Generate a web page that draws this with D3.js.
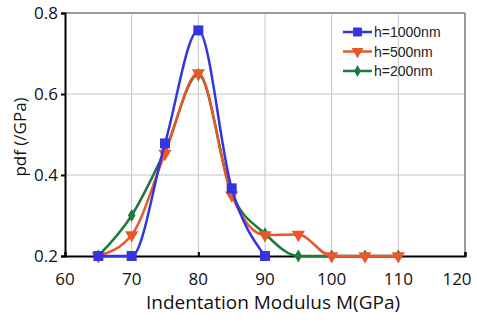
<!DOCTYPE html>
<html>
<head>
<meta charset="utf-8">
<script src="https://cdn.jsdelivr.net/npm/d3@7"></script>
<style>
  html, body { margin: 0; padding: 0; background: #fff; overflow: hidden; }
  svg { display: block; }
</style>
</head>
<body>
<div id="chart"></div>
<script>
const xTicks = [60, 70, 80, 90, 100, 110, 120];
const yTicks = [0.2, 0.4, 0.6, 0.8];

const mBlue = [65, 70, 75, 80, 85, 90];
const pdfBlue = [0.2, 0.2, 0.478, 0.757, 0.367, 0.2];

const mOrange = [65, 70, 75, 80, 85, 90, 95, 100, 105, 110];
const pdfOrange = [0.2, 0.252, 0.453, 0.652, 0.35, 0.252, 0.253, 0.2, 0.2, 0.2];

const mGreen = [65, 70, 75, 80, 85, 90, 95, 100, 105, 110];
const pdfGreen = [0.2, 0.3, 0.46, 0.648, 0.355, 0.255, 0.2, 0.2, 0.2, 0.2];

const seriesNames = ["h=1000nm", "h=500nm", "h=200nm"];
const colors = ["#3434e0", "#e8582a", "#1e7a3c"];

const outerWidth = 477, outerHeight = 326;
const margin = {left: 65, right: 12, top: 13, bottom: 70};
const innerWidth = outerWidth - margin.left - margin.right;
const innerHeight = outerHeight - margin.top - margin.bottom;

const series = [
  {name: seriesNames[0], color: colors[0], symbol: d3.symbolSquare, size: 100, drawn: mBlue.map((m, i) => ({m, v: pdfBlue[i]}))},
  {name: seriesNames[1], color: colors[1], symbol: d3.symbolTriangle, size: 75, rotate: 180, drawn: mOrange.map((m, i) => ({m, v: pdfOrange[i]}))},
  {name: seriesNames[2], color: colors[2], symbol: d3.symbolDiamond, size: 50, drawn: mGreen.map((m, i) => ({m, v: pdfGreen[i]}))}
];

// scales in page pixels
const x = d3.scaleLinear().domain([60, 120]).range([margin.left, margin.left + innerWidth]);
const y = d3.scaleLinear().domain([0.2, 0.8]).range([margin.top + innerHeight, margin.top]);

const svg = d3.select("#chart").append("svg")
    .attr("width", outerWidth)
    .attr("height", outerHeight);

// grid
svg.selectAll(".vgrid")
    .data(xTicks.slice(1, -1))
  .enter().append("line")
    .attr("x1", d => x(d)).attr("x2", d => x(d))
    .attr("y1", y(0.8)).attr("y2", y(0.2))
    .attr("stroke", "#c4c4c4").attr("stroke-width", 1);

svg.selectAll(".hgrid")
    .data(yTicks.slice(1, -1))
  .enter().append("line")
    .attr("x1", x(60)).attr("x2", x(120))
    .attr("y1", d => y(d)).attr("y2", d => y(d))
    .attr("stroke", "#c4c4c4").attr("stroke-width", 1);

// frame top / right
svg.append("line").attr("x1", x(60)).attr("x2", x(120)).attr("y1", y(0.8)).attr("y2", y(0.8))
    .attr("stroke", "#9a9a9a").attr("stroke-width", 2);
svg.append("line").attr("x1", x(120)).attr("x2", x(120)).attr("y1", y(0.8)).attr("y2", y(0.2))
    .attr("stroke", "#9a9a9a").attr("stroke-width", 2);

// axes (lines + ticks), labels drawn separately
const xAxis = svg.append("g")
    .attr("transform", "translate(0," + y(0.2) + ")")
    .call(d3.axisBottom(x).tickValues(xTicks).tickSize(-4).tickFormat(""));
xAxis.select(".domain").attr("stroke", "#000").attr("stroke-width", 2);
xAxis.selectAll(".tick line").attr("stroke", "#000").attr("stroke-width", 2);

const yAxis = svg.append("g")
    .attr("transform", "translate(" + x(60) + ",0)")
    .call(d3.axisLeft(y).tickValues(yTicks).tickSize(4).tickFormat(""));
yAxis.select(".domain").attr("stroke", "#000").attr("stroke-width", 2);
yAxis.selectAll(".tick line").attr("stroke", "#000").attr("stroke-width", 2);

svg.selectAll(".xlabel")
    .data(xTicks)
  .enter().append("text")
    .attr("class", "xlabel")
    .text(d => d)
    .attr("x", d => x(d) - (d === 120 ? 8 : 0))
    .attr("y", y(0.2) + 29)
    .attr("text-anchor", "middle")
    .attr("font-family", "Open Sans, sans-serif")
    .attr("font-size", 17)
    .attr("fill", "#111");

svg.selectAll(".ylabel")
    .data(yTicks)
  .enter().append("text")
    .attr("class", "ylabel")
    .text(d => d3.format(".1f")(d))
    .attr("x", x(60) - 7)
    .attr("y", d => y(d) + 6)
    .attr("text-anchor", "end")
    .attr("font-family", "Open Sans, sans-serif")
    .attr("font-size", 17)
    .attr("fill", "#111");

// lines
const line = d3.line()
    .x(d => x(d.m))
    .y(d => y(d.v))
    .curve(d3.curveMonotoneX);

series.slice().reverse().forEach(s => {
  svg.append("path")
      .datum(s.drawn)
      .attr("fill", "none")
      .attr("stroke", s.color)
      .attr("stroke-width", 2.5)
      .attr("d", line);
  svg.selectAll(null)
      .data(s.drawn)
    .enter().append("path")
      .attr("d", d3.symbol().type(s.symbol).size(s.size))
      .attr("transform", d => "translate(" + x(d.m) + "," + y(d.v) + ")" + (s.rotate ? " rotate(" + s.rotate + ")" : ""))
      .attr("fill", s.color);
});

// legend
const legend = svg.append("g")
    .attr("transform", "translate(343,32)");
series.forEach((s, i) => {
  const row = legend.append("g").attr("transform", "translate(0," + i * 19.5 + ")");
  row.append("line").attr("x1", 0).attr("x2", 29).attr("stroke", s.color).attr("stroke-width", 2.5);
  row.append("path")
      .attr("d", d3.symbol().type(s.symbol).size(s.size * 0.8))
      .attr("transform", "translate(14.5,0)" + (s.rotate ? " rotate(" + s.rotate + ")" : ""))
      .attr("fill", s.color);
  row.append("text")
      .text(s.name)
      .attr("x", 31)
      .attr("y", 5)
      .attr("font-family", "Liberation Sans, Arial, sans-serif")
      .attr("font-size", 14)
      .attr("fill", "#222");
});

// axis titles
svg.append("text")
    .text("Indentation Modulus M(GPa)")
    .attr("x", 273)
    .attr("y", 309)
    .attr("text-anchor", "middle")
    .attr("font-family", "Open Sans, sans-serif")
    .attr("font-size", 19)
    .attr("fill", "#111");

svg.append("text")
    .text("pdf (/GPa)")
    .attr("transform", "translate(26,137) rotate(-90)")
    .attr("text-anchor", "middle")
    .attr("font-family", "Open Sans, sans-serif")
    .attr("font-size", 17)
    .attr("fill", "#111");
</script>
</body>
</html>
